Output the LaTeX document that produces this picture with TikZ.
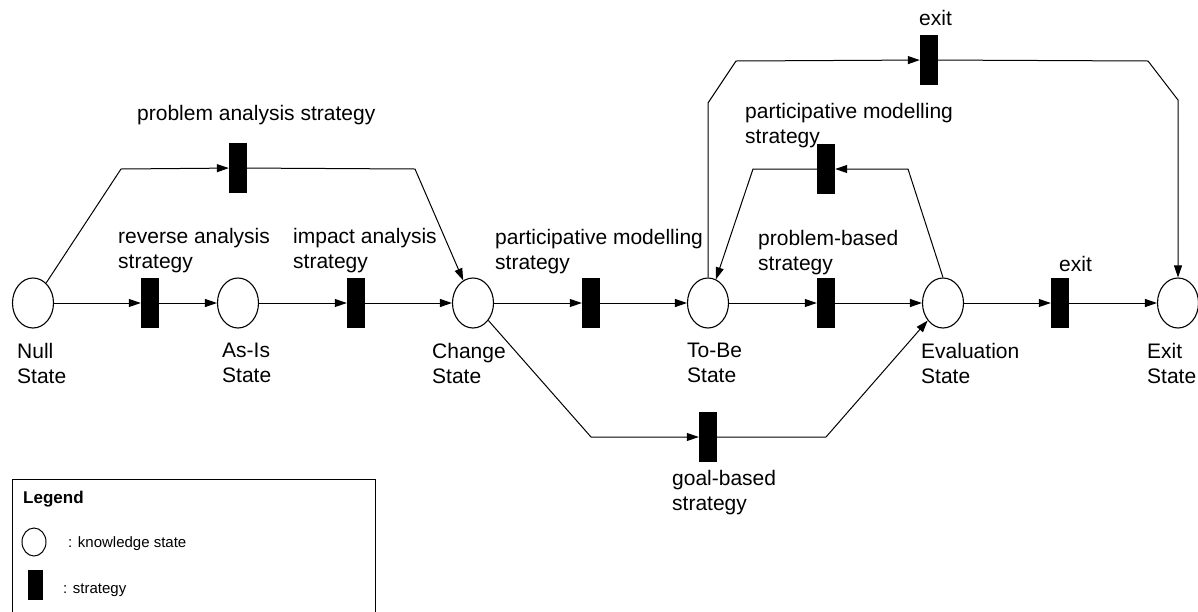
\documentclass[tikz,border=0pt]{standalone}
\usepackage{fontspec}
\setmainfont{Liberation Sans}
\usetikzlibrary{shapes.geometric,arrows.meta}
\begin{document}
\begin{tikzpicture}[x=1pt,y=-1pt,
  state/.style={draw,ellipse,line width=1.1pt,minimum width=41pt,minimum height=50pt,inner sep=0pt},
  strat/.style={fill=black,draw=none,minimum width=18pt,minimum height=50pt,inner sep=0pt},
  lbl/.style={align=left,inner sep=0pt,anchor=north west,font=\fontsize{21}{25}\selectfont},
  link/.style={line width=1pt,-{Triangle[length=12pt,width=8pt]}},
  plain/.style={line width=1pt}]
\clip (0,0) rectangle (1198,611);
\useasboundingbox (0,0) rectangle (1198,611);

% knowledge states
\node[state] (null)   at (33,303)   {};
\node[state] (asis)   at (238,303)  {};
\node[state] (change) at (473,303)  {};
\node[state] (tobe)   at (708,303)  {};
\node[state] (eval)   at (943,303)  {};
\node[state] (exit)   at (1178,303) {};

% strategies
\node[strat] (rev)   at (150,303) {};
\node[strat] (imp)   at (356,303) {};
\node[strat] (pa)    at (238,168) {};
\node[strat] (pml)   at (591,303) {};
\node[strat] (pb)    at (826,303) {};
\node[strat] (pmu)   at (826,169) {};
\node[strat] (ext)   at (929,60)  {};
\node[strat] (exl)   at (1060,303) {};
\node[strat] (goal)  at (708,437) {};

% bends
\coordinate (pa1) at (121,169);
\coordinate (pa2) at (415,169);
\coordinate (g1)  at (591,437);
\coordinate (g2)  at (826,437);
\coordinate (u1)  at (908,169);
\coordinate (u2)  at (753,169);
\coordinate (t1)  at (708,103);
\coordinate (t2)  at (736,61);
\coordinate (t3)  at (1148,61);
\coordinate (t4)  at (1178,100);

% connectors
\draw[link] (null) -- (rev);
\draw[link] (rev) -- (asis);
\draw[link] (null) -- (pa1) -- (pa);
\draw[link] (pa) -- (pa2) -- (change);
\draw[link] (asis) -- (imp);
\draw[link] (imp) -- (change);
\draw[link] (change) -- (pml);
\draw[link] (pml) -- (tobe);
\draw[link] (change) -- (g1) -- (goal);
\draw[link] (goal) -- (g2) -- (eval);
\draw[link] (tobe) -- (pb);
\draw[link] (pb) -- (eval);
\draw[link] (eval.north) -- (u1) -- (pmu);
\draw[link] (pmu) -- (u2) -- (tobe);
\draw[link] (tobe.north) -- (t1) -- (t2) -- (ext);
\draw[link] (ext) -- (t3) -- (t4) -- (exit.north);
\draw[link] (eval) -- (exl);
\draw[link] (exl) -- (exit);

% labels (top-left corner of first line)
\node[lbl] (lpa)   at (137,105) {problem analysis strategy};
\node[lbl] (lrev)  at (118,228) {reverse analysis\\strategy};
\node[lbl] (limp)  at (293,228) {impact analysis\\strategy};
\node[lbl] (lpml)  at (495,229) {participative modelling\\strategy};
\node[lbl] (lpmu)  at (745,103) {participative modelling\\strategy};
\node[lbl] (lpb)   at (758,230) {problem-based\\strategy};
\node[lbl] (lext)  at (919,10)  {exit};
\node[lbl] (lexl)  at (1059,256) {exit};
\node[lbl] (lgoal) at (672,470) {goal-based\\strategy};
\node[lbl] (lnull) at (17,343)  {Null\\State};
\node[lbl] (lasis) at (222,343) {As-Is\\State};
\node[lbl] (lchg)  at (432,343) {Change\\State};
\node[lbl] (ltobe) at (687,343) {To-Be\\State};
\node[lbl] (leval) at (921,343) {Evaluation\\State};
\node[lbl] (lexit) at (1147,343) {Exit\\State};

% legend
\draw[line width=1pt] (12,620) |- (375,479) -- (375,620);
\node[anchor=base west,inner sep=0pt,font=\fontsize{17}{20}\selectfont\bfseries] (legt) at (23,503) {Legend};
\node[draw,ellipse,line width=1pt,minimum width=24pt,minimum height=28pt,inner sep=0pt] (legs) at (34,542) {};
\node[anchor=base west,inner sep=0pt,font=\fontsize{15}{18}\selectfont] (legst) at (68,547) {: knowledge state};
\node[fill=black,minimum width=15pt,minimum height=30pt,inner sep=0pt] (legb) at (35,585) {};
\node[anchor=base west,inner sep=0pt,font=\fontsize{15}{18}\selectfont] (legbt) at (63,593) {: strategy};
\end{tikzpicture}
\end{document}
